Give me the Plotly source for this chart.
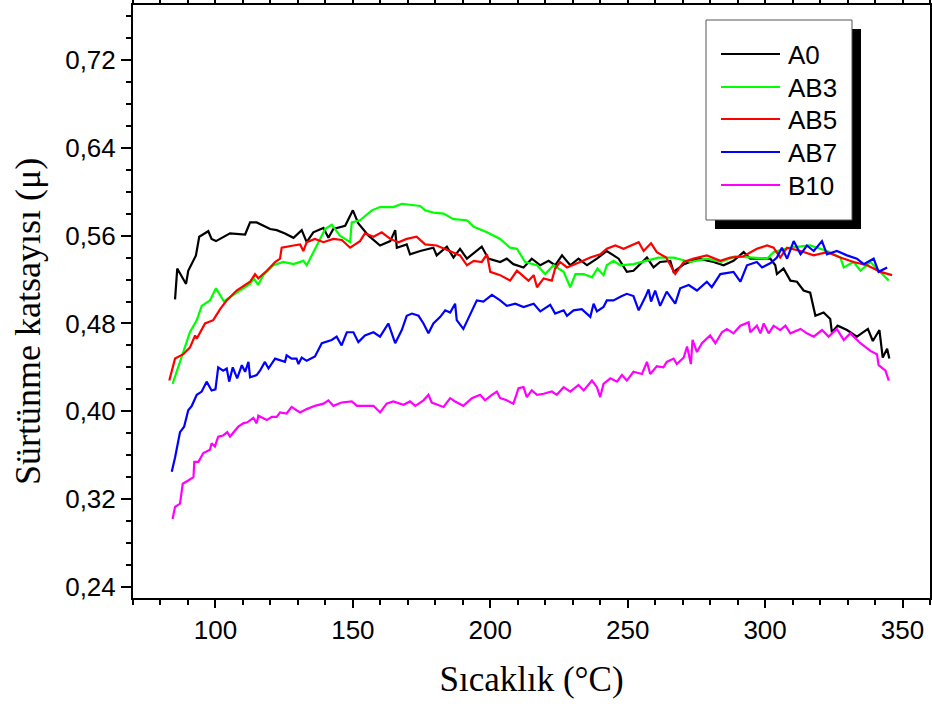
import plotly.graph_objects as go

# ---- data ----
a0_t = [85.3, 86.1, 89.3, 90.1, 92.9, 94.1, 97.4, 98.6, 100.2, 105.3, 110.8, 112.6, 115.0, 119.9, 122.3,
        125.3, 128.4, 131.4, 133.2, 135.6, 139.3, 141.1, 142.9, 147.2, 150.0, 152.0, 155.7, 159.9, 163.6,
        165.4, 166.0, 169.6, 170.8, 174.5, 179.3, 180.5, 184.2, 186.6, 189.0, 191.5, 196.9, 199.3, 203.6,
        206.0, 208.4, 212.1, 215.1, 218.2, 221.2, 223.6, 226.1, 229.1, 232.1, 235.2, 238.8, 242.4, 246.7,
        249.7, 252.1, 257.0, 259.4, 261.8, 265.5, 266.7, 270.5, 275.8, 281.2, 284.9, 288.5, 292.2, 294.6,
        298.3, 301.9, 303.7, 304.3, 306.7, 309.2, 311.6, 314.0, 316.4, 318.3, 321.3, 323.7, 324.3, 326.4,
        329.8, 333.4, 337.4, 339.2, 341.6, 342.8, 344.4, 345.2]
a0_v = [0.502, 0.530, 0.516, 0.528, 0.542, 0.559, 0.564, 0.557, 0.555, 0.562, 0.561, 0.572, 0.572, 0.566, 0.565,
        0.562, 0.558, 0.565, 0.554, 0.563, 0.567, 0.558, 0.566, 0.569, 0.583, 0.571, 0.560, 0.551, 0.555,
        0.565, 0.549, 0.552, 0.543, 0.546, 0.549, 0.542, 0.550, 0.540, 0.548, 0.539, 0.550, 0.539, 0.536,
        0.539, 0.534, 0.531, 0.539, 0.533, 0.537, 0.533, 0.542, 0.533, 0.539, 0.533, 0.539, 0.546, 0.539,
        0.527, 0.528, 0.540, 0.531, 0.536, 0.537, 0.527, 0.534, 0.539, 0.536, 0.533, 0.537, 0.545, 0.539,
        0.539, 0.539, 0.533, 0.525, 0.530, 0.519, 0.518, 0.510, 0.508, 0.487, 0.490, 0.484, 0.472, 0.478,
        0.474, 0.468, 0.475, 0.464, 0.474, 0.449, 0.457, 0.448]

ab3_t = [84.4, 85.9, 88.3, 90.7, 93.2, 95.0, 98.0, 100.2, 103.1, 105.3, 108.9, 112.6, 114.0, 115.5, 117.4,
         121.1, 124.7, 128.4, 132.0, 133.2, 136.9, 139.9, 142.3, 145.3, 149.0, 149.6, 152.6, 156.9, 159.9,
         164.7, 167.8, 171.0, 174.5, 176.3, 179.3, 183.0, 186.6, 191.5, 194.0, 198.8, 203.6, 207.2, 209.7,
         212.7, 217.0, 220.0, 223.0, 226.7, 229.1, 231.0, 234.0, 237.0, 239.0, 241.2, 242.4, 244.8, 247.3,
         252.1, 257.0, 261.2, 266.7, 272.8, 278.8, 284.0, 289.0, 294.6, 300.7, 303.1, 309.2, 316.4, 322.5,
         327.4, 328.6, 332.2, 334.7, 338.3, 342.0, 345.0]
ab3_v = [0.425, 0.437, 0.454, 0.472, 0.483, 0.496, 0.501, 0.512, 0.500, 0.504, 0.510, 0.516, 0.521, 0.515, 0.524,
         0.533, 0.536, 0.534, 0.537, 0.533, 0.551, 0.566, 0.570, 0.560, 0.554, 0.572, 0.574, 0.583, 0.586,
         0.586, 0.589, 0.588, 0.587, 0.583, 0.581, 0.580, 0.575, 0.574, 0.568, 0.563, 0.557, 0.549, 0.548,
         0.536, 0.533, 0.525, 0.533, 0.527, 0.513, 0.525, 0.525, 0.522, 0.530, 0.524, 0.533, 0.537, 0.533,
         0.534, 0.537, 0.540, 0.540, 0.536, 0.539, 0.536, 0.541, 0.540, 0.539, 0.545, 0.549, 0.551, 0.546,
         0.540, 0.531, 0.536, 0.528, 0.536, 0.527, 0.519]

ab5_t = [83.2, 85.3, 88.3, 90.7, 92.6, 93.2, 96.2, 99.2, 101.7, 104.1, 107.7, 112.6, 114.4, 115.6, 118.7,
         121.7, 123.5, 124.1, 128.4, 130.8, 132.0, 133.2, 136.2, 139.3, 142.9, 146.0, 149.0, 152.6, 154.4,
         157.5, 160.5, 163.6, 166.6, 169.6, 173.2, 176.3, 180.5, 185.4, 189.0, 191.5, 194.0, 196.9, 198.8,
         200.0, 203.6, 207.2, 209.7, 213.9, 215.8, 217.0, 219.4, 222.4, 223.6, 225.4, 227.9, 232.7, 236.4,
         240.0, 242.4, 245.5, 248.5, 254.0, 255.8, 258.5, 260.6, 264.0, 267.3, 270.4, 274.0, 278.8, 283.7,
         287.3, 292.0, 297.0, 300.7, 303.1, 305.5, 308.0, 312.9, 317.7, 322.5, 327.4, 332.2, 337.1, 342.0,
         346.2]
ab5_v = [0.428, 0.448, 0.452, 0.458, 0.469, 0.466, 0.480, 0.483, 0.493, 0.501, 0.510, 0.518, 0.525, 0.521, 0.528,
         0.536, 0.539, 0.549, 0.551, 0.552, 0.546, 0.554, 0.557, 0.554, 0.557, 0.556, 0.549, 0.555, 0.562,
         0.559, 0.563, 0.557, 0.554, 0.557, 0.559, 0.552, 0.551, 0.546, 0.542, 0.533, 0.537, 0.536, 0.543,
         0.527, 0.524, 0.519, 0.528, 0.519, 0.524, 0.513, 0.521, 0.519, 0.530, 0.536, 0.531, 0.536, 0.540,
         0.543, 0.548, 0.551, 0.548, 0.554, 0.546, 0.553, 0.545, 0.540, 0.525, 0.536, 0.539, 0.542, 0.537,
         0.540, 0.541, 0.548, 0.551, 0.549, 0.540, 0.549, 0.546, 0.542, 0.545, 0.540, 0.536, 0.533, 0.527,
         0.524]

ab7_t = [84.1, 85.3, 87.1, 88.6, 90.1, 91.4, 93.2, 95.0, 96.8, 98.6, 100.0, 101.0, 102.8, 104.1, 105.0,
         106.3, 107.9, 109.6, 110.8, 112.0, 112.6, 115.0, 116.2, 118.0, 119.3, 121.7, 125.3, 125.9, 127.7,
         129.5, 130.2, 131.4, 133.2, 136.2, 138.7, 142.3, 144.1, 145.9, 147.8, 150.2, 152.0, 154.4, 157.5,
         159.9, 162.9, 165.4, 167.8, 169.6, 171.5, 173.9, 175.7, 177.5, 179.3, 181.8, 183.6, 185.4, 187.2,
         187.8, 190.2, 192.7, 195.1, 197.5, 200.6, 203.6, 206.0, 209.1, 212.1, 215.8, 218.2, 221.8, 223.6,
         226.7, 227.9, 230.3, 233.3, 236.4, 237.6, 238.8, 241.2, 242.4, 244.8, 247.9, 249.7, 252.1, 254.0,
         256.4, 257.6, 258.5, 260.0, 261.8, 264.2, 267.3, 269.1, 272.2, 275.2, 278.8, 280.6, 283.7, 288.5,
         291.0, 293.4, 297.0, 298.9, 302.0, 304.3, 306.1, 308.0, 310.4, 312.9, 315.2, 317.7, 320.7, 322.5,
         326.1, 329.8, 333.4, 335.9, 339.5, 341.3, 344.4]
ab7_v = [0.345, 0.358, 0.381, 0.386, 0.401, 0.405, 0.415, 0.418, 0.427, 0.419, 0.420, 0.440, 0.437, 0.439, 0.427,
         0.440, 0.430, 0.442, 0.436, 0.445, 0.431, 0.433, 0.437, 0.445, 0.439, 0.448, 0.445, 0.451, 0.448,
         0.448, 0.443, 0.449, 0.446, 0.450, 0.462, 0.465, 0.468, 0.460, 0.472, 0.472, 0.463, 0.469, 0.472,
         0.468, 0.480, 0.462, 0.474, 0.487, 0.489, 0.487, 0.480, 0.471, 0.480, 0.486, 0.492, 0.490, 0.498,
         0.483, 0.475, 0.489, 0.501, 0.500, 0.506, 0.501, 0.496, 0.498, 0.495, 0.498, 0.491, 0.497, 0.489,
         0.492, 0.487, 0.492, 0.493, 0.486, 0.498, 0.491, 0.495, 0.501, 0.501, 0.505, 0.507, 0.505, 0.492,
         0.504, 0.511, 0.500, 0.510, 0.496, 0.509, 0.498, 0.512, 0.515, 0.510, 0.518, 0.513, 0.525, 0.527,
         0.518, 0.533, 0.536, 0.531, 0.535, 0.540, 0.549, 0.539, 0.555, 0.543, 0.551, 0.546, 0.555, 0.543,
         0.546, 0.542, 0.539, 0.534, 0.539, 0.527, 0.531]

b10_t = [84.4, 85.3, 87.1, 88.1, 90.1, 92.0, 92.3, 93.8, 95.6, 98.0, 98.6, 99.8, 101.0, 102.8, 104.3,
         105.3, 108.3, 110.1, 111.6, 113.8, 115.0, 115.6, 118.7, 120.5, 122.3, 123.5, 125.9, 127.7, 129.5,
         130.8, 133.2, 136.2, 139.3, 141.1, 142.9, 145.9, 149.6, 151.5, 155.1, 157.5, 159.9, 162.3, 164.7,
         168.4, 170.8, 172.7, 175.7, 177.5, 178.7, 183.0, 185.4, 187.2, 190.2, 193.3, 196.3, 198.1, 200.6,
         202.4, 203.6, 206.0, 208.4, 210.3, 212.1, 213.3, 215.1, 217.0, 219.4, 222.4, 224.2, 226.7, 229.1,
         232.1, 234.0, 237.0, 238.8, 240.0, 241.2, 243.7, 246.1, 247.9, 249.7, 252.1, 255.2, 257.0, 258.2,
         260.6, 263.0, 264.2, 266.7, 267.9, 270.4, 271.6, 273.0, 273.6, 275.2, 277.0, 280.0, 281.9, 284.3,
         286.1, 288.5, 291.0, 294.0, 294.6, 297.0, 298.3, 299.5, 301.3, 303.1, 305.5, 307.4, 309.2, 312.9,
         315.2, 317.7, 320.7, 323.1, 326.1, 328.6, 331.0, 334.7, 338.3, 340.7, 341.3, 343.8, 345.0]
b10_v = [0.302, 0.313, 0.316, 0.334, 0.337, 0.340, 0.354, 0.354, 0.362, 0.365, 0.371, 0.368, 0.377, 0.378, 0.381,
         0.377, 0.386, 0.389, 0.390, 0.394, 0.389, 0.396, 0.392, 0.395, 0.395, 0.399, 0.398, 0.404, 0.401,
         0.399, 0.402, 0.405, 0.407, 0.410, 0.405, 0.408, 0.409, 0.405, 0.405, 0.405, 0.399, 0.407, 0.409,
         0.406, 0.409, 0.405, 0.410, 0.415, 0.408, 0.404, 0.412, 0.409, 0.405, 0.412, 0.415, 0.410, 0.415,
         0.418, 0.412, 0.410, 0.407, 0.421, 0.422, 0.413, 0.419, 0.415, 0.416, 0.418, 0.415, 0.422, 0.418,
         0.424, 0.419, 0.428, 0.422, 0.413, 0.425, 0.430, 0.427, 0.433, 0.428, 0.436, 0.434, 0.445, 0.434,
         0.441, 0.440, 0.445, 0.448, 0.443, 0.449, 0.459, 0.443, 0.465, 0.454, 0.462, 0.469, 0.462, 0.472,
         0.475, 0.471, 0.478, 0.481, 0.472, 0.478, 0.471, 0.480, 0.471, 0.478, 0.474, 0.478, 0.471, 0.475,
         0.471, 0.468, 0.474, 0.468, 0.475, 0.465, 0.471, 0.462, 0.455, 0.452, 0.442, 0.437, 0.428]

series_names = ["A0", "AB3", "AB5", "AB7", "B10"]
series_colors = ["#000000", "#00ff00", "#ff0000", "#0000ff", "#ff00ff"]
series_t = [a0_t, ab3_t, ab5_t, ab7_t, b10_t]
series_v = [a0_v, ab3_v, ab5_v, ab7_v, b10_v]

# ---- layout geometry (pixels) ----
W, H = 932, 709
ML, MR, MT, MB = 133, 2, 5, 111
PW, PH = W - ML - MR, H - MT - MB


def px(xp):
    return (xp - ML) / PW


def py(yp):
    return (H - MB - yp) / PH


fig = go.Figure()
for name, color, t, v in zip(series_names, series_colors, series_t, series_v):
    fig.add_trace(go.Scatter(x=t, y=v, mode="lines", name=name, showlegend=False,
                             line=dict(color=color, width=2.2)))

axis_common = dict(showgrid=False, zeroline=False, showline=True, linecolor="black", linewidth=2,
                   ticks="outside", tickcolor="black", tickwidth=2, mirror="ticks", automargin=False,
                   tickfont=dict(family="Liberation Sans, Arial", size=26, color="black"))

fig.update_xaxes(range=[70, 360], tick0=100, dtick=50, ticklen=8,
                 minor=dict(dtick=10, tick0=100, ticks="outside", ticklen=5, tickwidth=2, tickcolor="black"),
                 title=dict(text="Sıcaklık (°C)", standoff=22,
                            font=dict(family="Liberation Serif, Times New Roman", size=35, color="black")),
                 **axis_common)
fig.update_yaxes(range=[0.23, 0.77], tick0=0.24, dtick=0.08, tickformat=".2f", ticklen=10,
                 minor=dict(dtick=0.02, tick0=0.24, ticks="outside", ticklen=5, tickwidth=2, tickcolor="black"),
                 **axis_common)

# y-axis title (placed as in the reference, slightly below the plot centre)
fig.add_annotation(xref="paper", yref="paper", x=px(28), y=py(322), xanchor="center", yanchor="middle",
                   text="Sürtünme katsayısı (μ)", textangle=-90, showarrow=False,
                   font=dict(family="Liberation Serif, Times New Roman", size=36, color="black"))

# ---- legend drawn as box + shadow + samples ----
box_l, box_r, box_t, box_b = 706, 852, 20, 220
shadow_dx, shadow_dy = 9, 9
fig.add_shape(type="rect", xref="paper", yref="paper",
              x0=px(box_l + shadow_dx), x1=px(box_r + shadow_dx),
              y0=py(box_b + shadow_dy), y1=py(box_t + shadow_dy),
              fillcolor="black", line=dict(width=0), layer="above")
fig.add_shape(type="rect", xref="paper", yref="paper",
              x0=px(box_l), x1=px(box_r), y0=py(box_b), y1=py(box_t),
              fillcolor="white", line=dict(color="#555555", width=1), layer="above")
item_y = [54, 87, 119, 152, 185]
for name, color, yy in zip(series_names, series_colors, item_y):
    fig.add_shape(type="line", xref="paper", yref="paper",
                  x0=px(721), x1=px(780), y0=py(yy), y1=py(yy),
                  line=dict(color=color, width=2), layer="above")
    fig.add_annotation(xref="paper", yref="paper", x=px(786), y=py(yy + 1),
                       xanchor="left", yanchor="middle", text=name, showarrow=False,
                       font=dict(family="Liberation Sans, Arial", size=26, color="black"))

fig.update_layout(
    width=W, height=H, autosize=False,
    margin=dict(l=ML, r=MR, t=MT, b=MB),
    paper_bgcolor="white", plot_bgcolor="white",
    separators=", ",
    showlegend=False,
)

fig.write_html("out.html")
